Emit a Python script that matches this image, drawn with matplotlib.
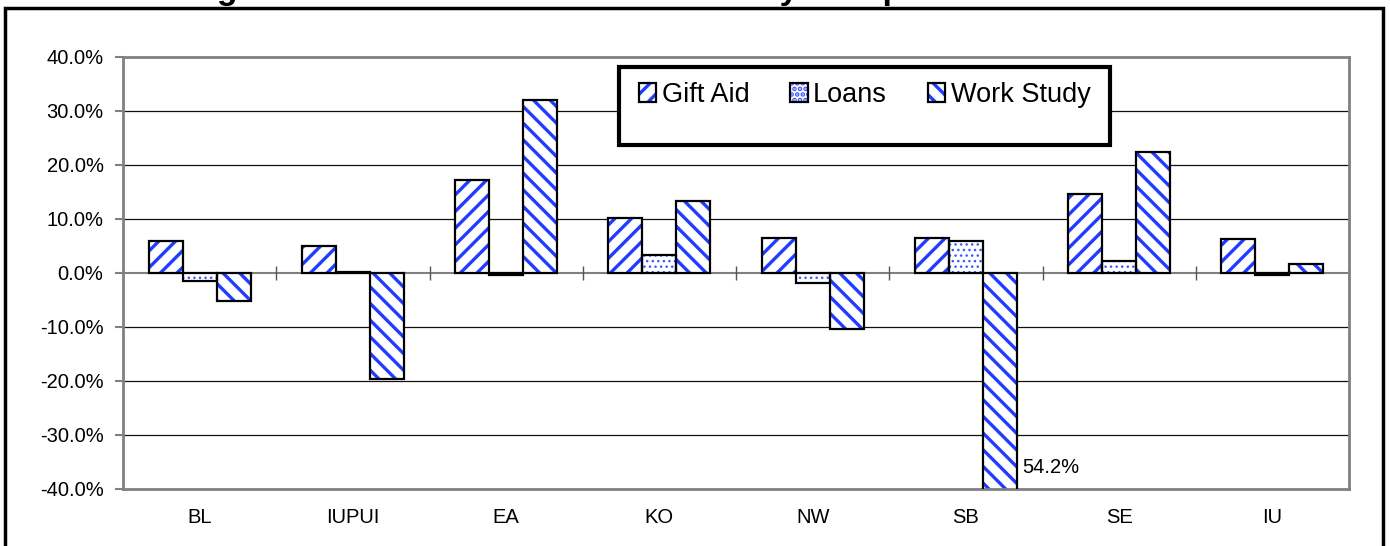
import matplotlib
matplotlib.use("Agg")
import matplotlib.pyplot as plt
from matplotlib.patches import Rectangle
from matplotlib.ticker import FuncFormatter
import numpy as np

# campuses and percent changes by aid component
cats = ['BL', 'IUPUI', 'EA', 'KO', 'NW', 'SB', 'SE', 'IU']
gift = [5.9, 5.0, 17.2, 10.1, 6.5, 6.4, 14.6, 6.3]
loans = [-1.5, 0.2, -0.4, 3.3, -1.8, 6.0, 2.2, -0.4]
work = [-5.2, -19.7, 32.0, 13.4, -10.4, -54.2, 22.5, 1.7]
series_names = ['Gift Aid', 'Loans', 'Work Study']
yticks = [-40, -30, -20, -10, 0, 10, 20, 30, 40]
clipped_label = '54.2%'

plt.rcParams['font.family'] = ['Liberation Sans', 'DejaVu Sans']

blue = '#1f3cff'
fig = plt.figure(figsize=(13.9, 5.46), dpi=100)
ax = fig.add_axes([123/1390, 57/546, 1226/1390, 432/546])

x = np.arange(len(cats))
w = 0.6667 / 3
handles = []
styles = [('//', blue, 2.4), ('...', '#3a58ff', 1.0), ('\\\\', blue, 2.4)]
for i, (vals, (hatch, hcol, hlw)) in enumerate(zip([gift, loans, work], styles)):
    plt.rcParams['hatch.linewidth'] = hlw
    pos = x + (i - 1) * w
    fill = ax.bar(pos, vals, w, color='white', edgecolor=hcol, hatch=hatch, linewidth=0, zorder=2)
    edge = ax.bar(pos, vals, w, fill=False, edgecolor='black', linewidth=1.6, zorder=3)
    handles.append((fill[0], edge[0]))
plt.rcParams['hatch.linewidth'] = 2.4

ax.set_xlim(-0.5, len(cats) - 0.5)
ax.set_ylim(-40, 40)
ax.set_yticks(yticks)
ax.yaxis.set_major_formatter(FuncFormatter(lambda v, p: f'{v:.1f}%'))
ax.set_xticks(x)
ax.set_xticklabels(cats)
ax.tick_params(axis='x', length=0, pad=14, labelsize=14.5)
ax.tick_params(axis='y', length=6, width=1.5, color='#808080', pad=8, labelsize=14.5)

for v in yticks[1:-1]:
    if v != 0:
        ax.axhline(v, color='#111111', lw=0.9, zorder=0.5)
ax.axhline(0, color='#808080', lw=1.5, zorder=1)
bounds = np.arange(len(cats) + 1) - 0.5
ax.vlines(bounds[1:], -1.3, 1.3, color='#555555', lw=1, zorder=1)

for s in ax.spines.values():
    s.set_color('#808080')
    s.set_linewidth(2)

# data label for the clipped SB bar
ax.annotate(clipped_label, xy=(x[5] + 1.5 * w, -36), xytext=(4, 0),
            textcoords='offset points', va='center', ha='left', fontsize=14.5)

# legend with its own tall frame
ax.add_patch(Rectangle((0.4046, 0.796), 0.4005, 0.181, transform=ax.transAxes,
                       facecolor='white', edgecolor='black', lw=3, zorder=5))
leg = ax.legend(handles, series_names, loc='center', bbox_to_anchor=(0.605, 0.912),
                ncol=3, frameon=False, fontsize=19.5, handlelength=0.65, handleheight=0.65,
                handletextpad=0.2, columnspacing=1.5)
leg.set_zorder(6)

# outer chart border and cut-off title
fig.add_artist(Rectangle((5/1390, -0.1), 1378/1390, (546-8)/546 + 0.1, transform=fig.transFigure,
                         fill=False, edgecolor='black', lw=2.5, clip_on=False))
fig.text(0.0, (546+1)/546, 'Percent Change in Total Financial Aid Awarded by Component',
         fontsize=24.2, fontweight='bold', va='baseline', ha='left')

fig.savefig('out.png', dpi=100)
